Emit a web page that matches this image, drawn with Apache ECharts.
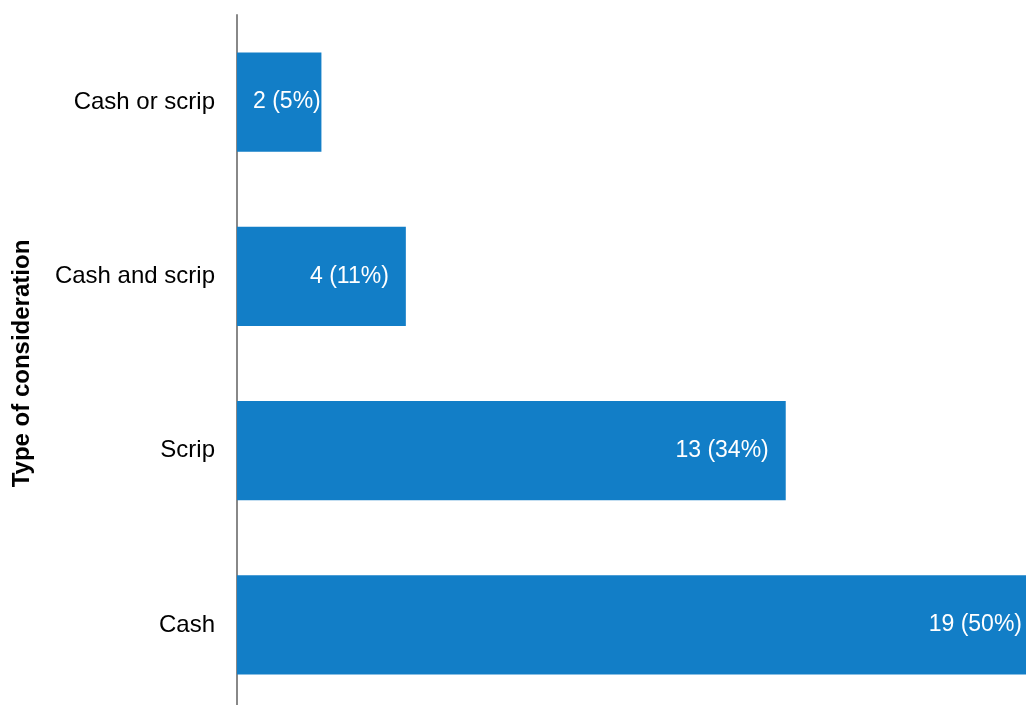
<!DOCTYPE html>
<html>
<head>
<meta charset="utf-8">
<script src="https://cdn.jsdelivr.net/npm/echarts@6/dist/echarts.min.js"></script>
<style>
  html, body { margin: 0; padding: 0; background: #fff; }
  #chart { width: 1026px; height: 705px; }
</style>
</head>
<body>
<div id="chart"></div>
<script>
// bottom to top, as ECharts lays out a category y axis
const categories = ["Cash", "Scrip", "Cash and scrip", "Cash or scrip"]
const counts = [19, 13, 4, 2]
const shares = [50, 34, 11, 5]

const font = "'Liberation Sans', Arial, sans-serif"
const barColor = "#127ec7"

let chart = echarts.init(document.getElementById("chart"), null, { renderer: "canvas" })

let data = counts.map((v, i) => {
    let item = { value: v, share: shares[i] }
    // the smallest bar's label sits from the bar's start, spilling past its end
    if (v === Math.min(...counts)) {
        item.label = { position: "insideLeft", distance: 16 }
    }
    return item
})

chart.setOption({
    animation: false,
    // the plot runs a little past the right and bottom edges of the picture
    grid: { left: 237, top: 15, width: 802, height: 697, outerBoundsMode: "none", containLabel: false },
    xAxis: {
        type: "value",
        min: 0,
        max: 19,
        show: false,
    },
    yAxis: {
        type: "category",
        data: categories,
        name: "Type of consideration",
        nameLocation: "middle",
        nameGap: 203,
        nameTextStyle: { fontFamily: font, fontSize: 24, fontWeight: "bold", color: "#000" },
        axisLine: { show: true, lineStyle: { color: "#888", width: 2 } },
        axisTick: { show: false },
        splitLine: { show: false },
        axisLabel: { fontFamily: font, fontSize: 24, color: "#000", margin: 22 },
    },
    series: [{
        type: "bar",
        data: data,
        barWidth: "57%",
        itemStyle: { color: barColor },
        label: {
            show: true,
            position: "insideRight",
            distance: 17,
            fontFamily: font,
            fontSize: 23,
            color: "#fff",
            formatter: p => p.value + " (" + p.data.share + "%)",
        },
    }],
})
</script>
</body>
</html>
